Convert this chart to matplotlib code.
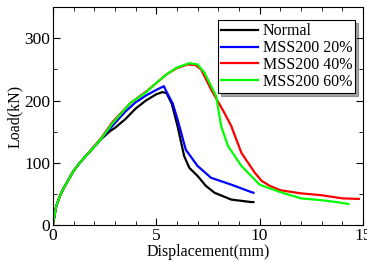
import matplotlib
matplotlib.use("Agg")
from matplotlib import pyplot as plt
from matplotlib.ticker import MultipleLocator

plt.rcParams['font.family'] = ['Liberation Serif', 'DejaVu Serif']

# load-displacement data
normal_x = [0, 0.16, 0.33, 0.5, 1.0, 1.3, 2.3, 2.77, 3.0, 3.5, 4.0, 4.5, 5.0, 5.29, 5.5, 5.75, 6.03, 6.35, 6.6, 7.0, 7.4, 7.82, 8.63, 9.6, 9.7]
normal_y = [0, 30, 46, 58, 87, 100, 137, 151, 156, 170, 187, 200, 210, 213.5, 212, 195, 159, 111, 92, 79, 63, 52, 41, 37, 37]

mss20_x = [0, 0.16, 0.33, 0.5, 1.0, 1.3, 2.3, 2.9, 3.5, 4.0, 4.5, 5.0, 5.37, 5.5, 5.8, 6.03, 6.43, 7.0, 7.65, 8.63, 9.6, 9.7]
mss20_y = [0, 30, 46, 58, 87, 100, 137, 160, 182, 197, 208, 217, 223, 214, 195, 170, 121, 95, 76, 65, 53, 52]

mss40_x = [0, 0.16, 0.33, 0.5, 1.0, 1.3, 2.3, 2.9, 3.75, 4.5, 5.0, 5.5, 6.0, 6.52, 6.9, 7.17, 7.65, 8.3, 8.63, 9.12, 9.77, 10.1, 10.5, 11.0, 12.0, 13.0, 14.0, 14.8]
mss40_y = [0, 30, 46, 58, 87, 100, 138, 166, 196, 214, 228, 242, 252, 258, 257, 250, 218, 180, 159, 116, 84, 71, 63, 56, 51, 48, 43, 42]

mss60_x = [0, 0.16, 0.33, 0.5, 1.0, 1.3, 2.3, 2.9, 3.75, 4.5, 5.0, 5.5, 6.0, 6.6, 7.0, 7.33, 7.9, 8.14, 8.47, 9.12, 10.0, 11.0, 12.0, 13.0, 13.5, 14.3]
mss60_y = [0, 30, 46, 58, 87, 100, 137, 164, 196, 213, 228, 242, 253, 260, 258, 245, 207, 159, 127, 95, 65, 53, 43, 40, 38, 34]

series = [
    ("Normal", normal_x, normal_y, "#000000"),
    ("MSS200 20%", mss20_x, mss20_y, "#0000ff"),
    ("MSS200 40%", mss40_x, mss40_y, "#ff0000"),
    ("MSS200 60%", mss60_x, mss60_y, "#00ff00"),
]

fig = plt.figure(figsize=(3.67, 2.63), dpi=100)
ax = fig.add_axes([0.144, 0.144, 0.845, 0.829])

for name, x, y, c in series:
    ax.plot(x, y, color=c, lw=1.6, label=name)

ax.set_xlim(0, 15)
ax.set_ylim(0, 350)
ax.xaxis.set_major_locator(MultipleLocator(5))
ax.xaxis.set_minor_locator(MultipleLocator(1))
ax.yaxis.set_major_locator(MultipleLocator(100))
ax.yaxis.set_minor_locator(MultipleLocator(50))
ax.tick_params(which='both', direction='in', top=True, right=True, labelsize=12.5, pad=2)
ax.tick_params(which='major', length=5)
ax.tick_params(which='minor', length=3)

ax.set_xlabel("Displacement(mm)", fontsize=11.5, labelpad=0)
ax.set_ylabel("Load(kN)", fontsize=11.5, labelpad=1)

leg = ax.legend(loc='upper right', bbox_to_anchor=(0.975, 0.94), fontsize=11.5,
                frameon=True, fancybox=False, shadow=True, borderpad=0.2,
                labelspacing=0.05, handlelength=2.3, handletextpad=0.3,
                borderaxespad=0)
leg.get_frame().set_edgecolor('black')
leg.get_frame().set_linewidth(0.8)

plt.savefig('out.png', dpi=100)
